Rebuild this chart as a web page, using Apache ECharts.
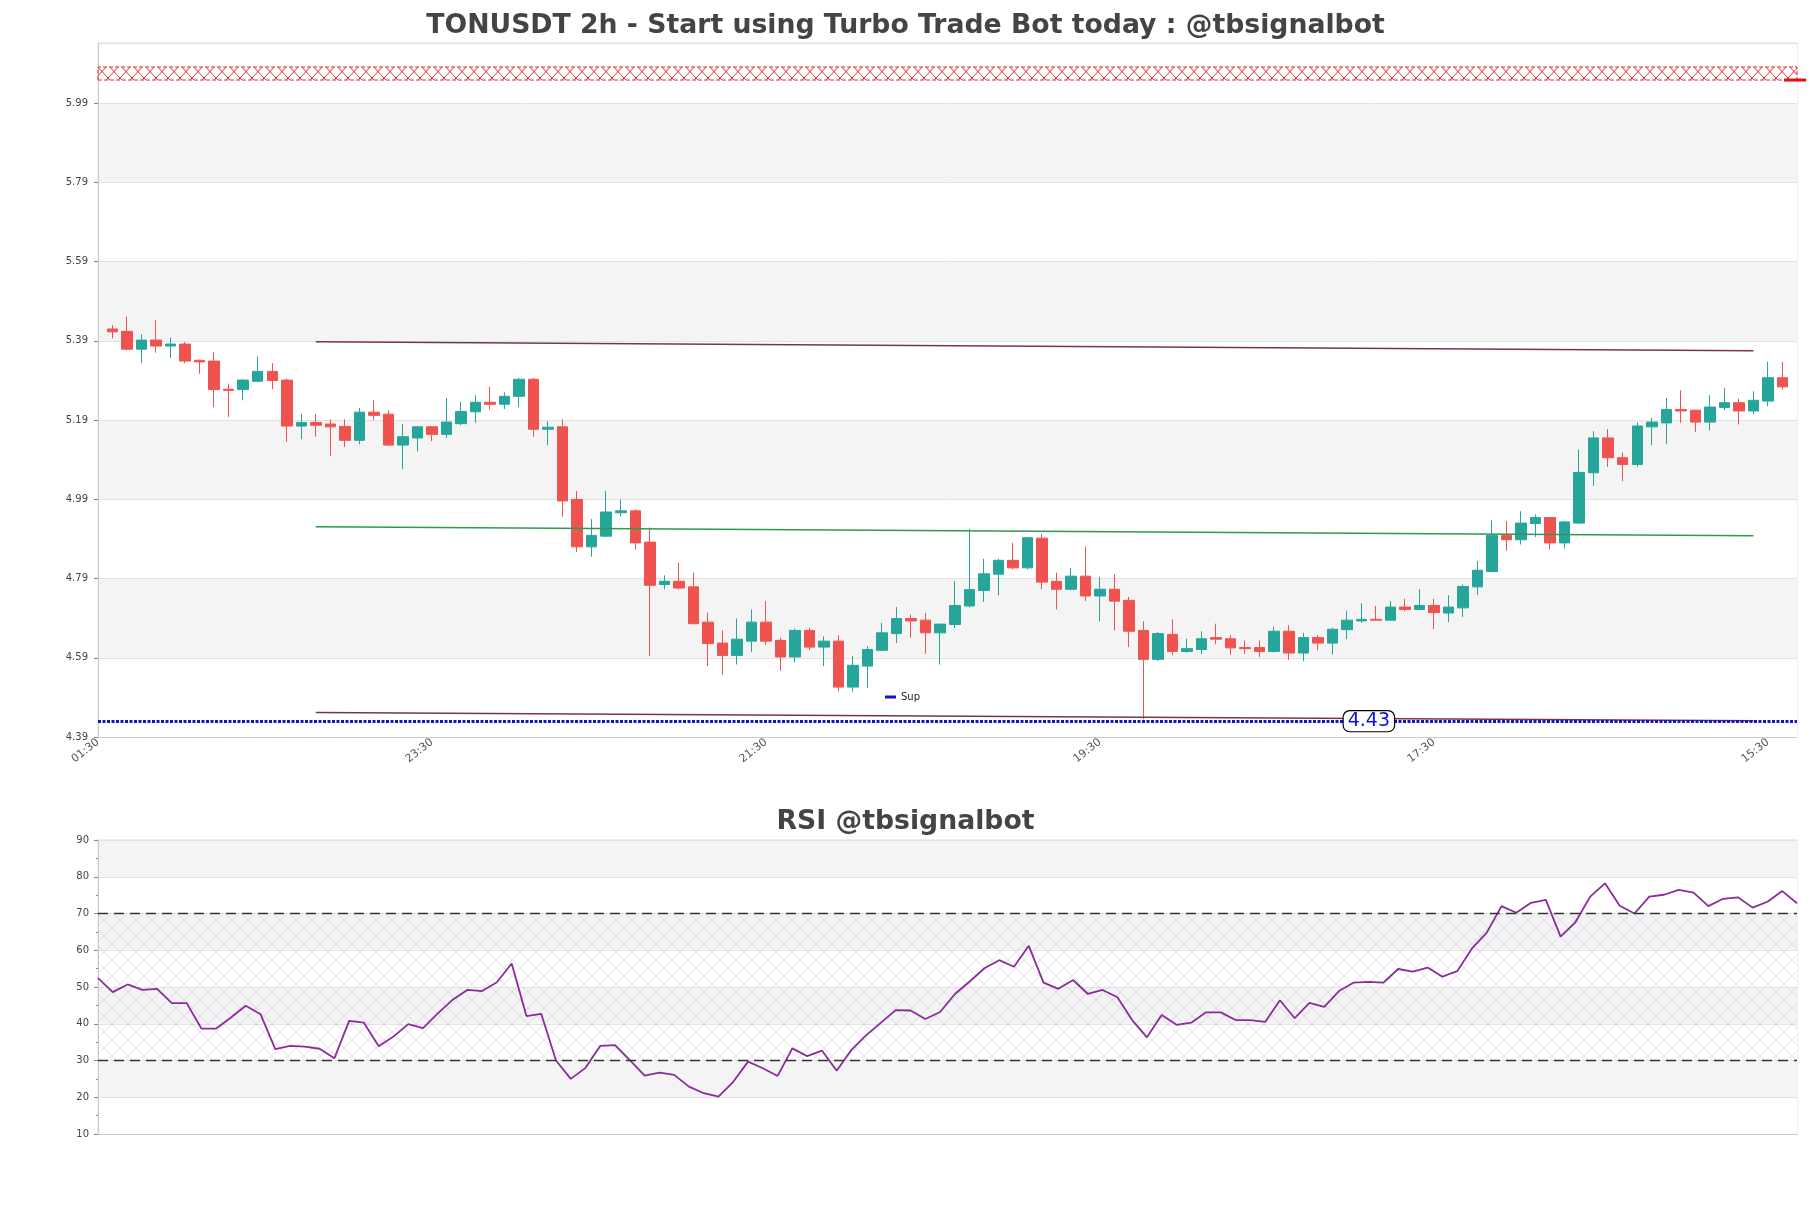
<!DOCTYPE html>
<html>
<head>
<meta charset="utf-8">
<script src="https://cdn.jsdelivr.net/npm/echarts@6/dist/echarts.min.js"></script>
<style>
  html, body { margin: 0; padding: 0; background: #fff; }
  #chart { width: 1811px; height: 1208px; }
</style>
</head>
<body>
<div id="chart"></div>
<script>
// x tick labels, one every 23 slots
const tickLabels = ['01:30', '23:30', '21:30', '19:30', '17:30', '15:30'];

// candles (slot 1..116)
const candleOpen = [5.420,5.414,5.369,5.392,5.377,5.382,5.341,5.339,5.268,5.267,5.288,5.313,5.291,5.175,5.184,5.180,5.174,5.139,5.210,5.205,
  5.127,5.145,5.173,5.154,5.181,5.211,5.235,5.230,5.250,5.293,5.167,5.173,4.990,4.870,4.897,4.956,4.961,4.882,4.775,4.783,
  4.769,4.680,4.627,4.596,4.632,4.680,4.634,4.592,4.659,4.617,4.632,4.516,4.569,4.609,4.651,4.689,4.685,4.653,4.674,4.721,
  4.760,4.801,4.836,4.817,4.892,4.783,4.763,4.796,4.746,4.763,4.735,4.659,4.586,4.649,4.606,4.611,4.641,4.638,4.616,4.616,
  4.606,4.657,4.602,4.641,4.627,4.661,4.683,4.687,4.685,4.718,4.712,4.722,4.703,4.716,4.769,4.808,4.899,4.888,4.929,4.944,
  4.880,4.930,5.057,5.145,5.095,5.078,5.173,5.183,5.217,5.215,5.185,5.222,5.234,5.213,5.238,5.297];
const candleClose = [5.413,5.369,5.392,5.377,5.382,5.339,5.337,5.267,5.265,5.291,5.313,5.290,5.175,5.184,5.177,5.173,5.139,5.210,5.202,5.127,
  5.148,5.173,5.154,5.185,5.212,5.235,5.230,5.250,5.293,5.167,5.172,4.986,4.870,4.899,4.958,4.961,4.880,4.773,4.783,4.766,
  4.676,4.626,4.596,4.637,4.680,4.632,4.592,4.659,4.617,4.632,4.516,4.571,4.611,4.653,4.689,4.683,4.653,4.675,4.722,4.762,
  4.802,4.836,4.817,4.893,4.781,4.763,4.796,4.746,4.763,4.733,4.657,4.586,4.651,4.606,4.613,4.638,4.637,4.615,4.613,4.606,
  4.657,4.602,4.641,4.627,4.662,4.685,4.687,4.685,4.718,4.712,4.722,4.704,4.718,4.770,4.811,4.899,4.888,4.930,4.944,4.880,
  4.933,5.058,5.145,5.095,5.078,5.175,5.185,5.217,5.213,5.185,5.223,5.234,5.213,5.240,5.297,5.274];
const candleLow = [5.396,5.366,5.334,5.360,5.347,5.334,5.307,5.223,5.198,5.240,5.286,5.268,5.135,5.142,5.148,5.100,5.122,5.129,5.190,5.125,
  5.066,5.111,5.137,5.145,5.177,5.183,5.217,5.218,5.223,5.148,5.127,4.946,4.857,4.845,4.895,4.947,4.863,4.595,4.763,4.762,
  4.674,4.569,4.547,4.573,4.605,4.623,4.557,4.578,4.609,4.569,4.506,4.504,4.514,4.607,4.627,4.641,4.600,4.573,4.665,4.717,
  4.731,4.748,4.813,4.813,4.763,4.712,4.760,4.733,4.682,4.659,4.617,4.435,4.582,4.596,4.603,4.599,4.624,4.598,4.600,4.592,
  4.603,4.585,4.581,4.609,4.598,4.637,4.678,4.683,4.685,4.707,4.710,4.662,4.680,4.693,4.749,4.806,4.860,4.876,4.895,4.863,
  4.866,4.929,5.024,5.072,5.036,5.072,5.127,5.129,5.183,5.160,5.164,5.215,5.179,5.205,5.225,5.267];
const candleHigh = [5.430,5.451,5.407,5.442,5.398,5.387,5.343,5.361,5.282,5.293,5.351,5.334,5.295,5.206,5.206,5.192,5.192,5.221,5.240,5.215,
  5.180,5.175,5.175,5.246,5.236,5.253,5.274,5.260,5.296,5.296,5.187,5.192,5.011,4.940,5.011,4.990,4.965,4.919,4.798,4.830,
  4.805,4.704,4.659,4.689,4.712,4.733,4.641,4.664,4.666,4.644,4.647,4.594,4.619,4.678,4.718,4.699,4.703,4.676,4.783,4.916,
  4.840,4.840,4.880,4.895,4.903,4.805,4.817,4.871,4.794,4.801,4.744,4.682,4.655,4.687,4.638,4.657,4.676,4.647,4.634,4.634,
  4.668,4.672,4.653,4.647,4.666,4.709,4.728,4.721,4.733,4.739,4.763,4.739,4.748,4.775,4.834,4.937,4.935,4.960,4.952,4.945,
  4.935,5.116,5.162,5.167,5.108,5.184,5.196,5.246,5.265,5.216,5.253,5.271,5.244,5.263,5.337,5.337];

// RSI, one value per candle
const rsiValues = [52.4,48.6,50.7,49.2,49.5,45.6,45.6,38.7,38.7,41.7,44.9,42.6,33.1,34.0,33.8,33.2,30.6,40.8,40.3,33.9,
  36.5,39.9,38.8,42.8,46.5,49.2,48.9,51.3,56.4,42.1,42.7,30.0,25.0,28.0,34.0,34.2,30.1,25.9,26.7,26.1,
  22.9,21.1,20.2,24.2,29.7,27.9,25.8,33.3,31.2,32.7,27.2,32.9,36.9,40.3,43.7,43.6,41.3,43.2,48.1,51.5,
  55.1,57.3,55.5,61.2,51.2,49.5,51.9,48.1,49.2,47.2,41.0,36.3,42.4,39.7,40.3,43.1,43.1,41.0,41.0,40.5,
  46.4,41.5,45.7,44.6,48.9,51.2,51.4,51.2,54.9,54.2,55.3,52.8,54.3,60.5,64.8,72.0,70.2,72.9,73.7,63.7,
  67.6,74.6,78.2,72.1,70.0,74.6,75.1,76.4,75.7,72.0,74.0,74.4,71.6,73.2,76.1,72.8];

// levels and trend lines [slot, price]
const resistLine = [[15, 5.388], [114, 5.365]];
const midLine = [[15, 4.921], [114, 4.898]];
const lowLine = [[15, 4.452], [114, 4.431]];
const supLevel = 4.43;
const supLabelSlot = 88;
const redZone = [6.0485, 6.0815];
const rsiLevels = [30, 70];

const slotCount = 118;
const slots = Array.from({ length: slotCount }, (_, i) => i);
const rsiSlots = rsiValues.map((_, i) => i);
const candles = candleOpen.map((o, i) => [i + 1, o, candleClose[i], candleLow[i], candleHigh[i]]);

function hatch(w, h, color, lw) {
  const c = document.createElement('canvas');
  c.width = w; c.height = h;
  const g = c.getContext('2d');
  g.strokeStyle = color;
  g.lineWidth = lw;
  g.beginPath();
  g.moveTo(0, 0); g.lineTo(w, h);
  g.moveTo(w, 0); g.lineTo(0, h);
  g.stroke();
  return c;
}

const font = 'DejaVu Sans';
const chart = echarts.init(document.getElementById('chart'));

const trend = (pts, color) => [
  { coord: pts[0], lineStyle: { color: color, width: 1.5, type: 'solid' } },
  { coord: pts[1] }
];

const option = {
  animation: false,
  backgroundColor: '#fff',
  title: [
    { text: 'TONUSDT 2h - Start using Turbo Trade Bot today : @tbsignalbot', left: 'center', top: 8,
      textStyle: { fontFamily: font, fontSize: 26.7, fontWeight: 'bold', color: '#444' } },
    { text: 'RSI @tbsignalbot', left: 'center', top: 804,
      textStyle: { fontFamily: font, fontSize: 26.7, fontWeight: 'bold', color: '#444' } }
  ],
  legend: {
    data: ['Sup'], left: 880, top: 687, icon: 'rect', itemWidth: 11, itemHeight: 3,
    textStyle: { fontFamily: font, fontSize: 10, color: '#222' }
  },
  grid: [
    { left: 98, top: 43, width: 1699, height: 694, show: true, borderColor: '#ddd', borderWidth: 1 },
    { left: 98, top: 840, width: 1699, height: 294, show: true, borderColor: '#ddd', borderWidth: 1 }
  ],
  xAxis: [
    { type: 'category', gridIndex: 0, data: slots, boundaryGap: false,
      axisLine: { lineStyle: { color: '#ccc' } }, axisTick: { show: false },
      axisLabel: { interval: 22, rotate: 38, margin: 4, fontFamily: font, fontSize: 11, color: '#555',
        formatter: (v, i) => tickLabels[i / 23] || '' },
      splitLine: { show: false } },
    { type: 'category', gridIndex: 1, data: rsiSlots, boundaryGap: false,
      axisLine: { lineStyle: { color: '#ccc' } }, axisTick: { show: false }, axisLabel: { show: false },
      splitLine: { show: false } }
  ],
  yAxis: [
    { type: 'value', gridIndex: 0, min: 4.39, max: 6.142, interval: 0.2, scale: true,
      axisLine: { show: true, lineStyle: { color: '#ccc' } },
      axisTick: { show: true, length: 4, lineStyle: { color: '#888' } },
      axisLabel: { showMaxLabel: false, margin: 10, fontFamily: font, fontSize: 10, color: '#444',
        formatter: v => v.toFixed(2) },
      splitLine: { lineStyle: { color: '#e2e2e2' } },
      splitArea: { show: true, areaStyle: { color: ['#ffffff', '#f4f4f4'] } } },
    { type: 'value', gridIndex: 1, min: 10, max: 90, interval: 10,
      axisLine: { show: true, lineStyle: { color: '#ccc' } },
      axisTick: { show: true, length: 4, lineStyle: { color: '#888' } },
      minorTick: { show: true, splitNumber: 2, length: 2, lineStyle: { color: '#888' } },
      axisLabel: { margin: 9, fontFamily: font, fontSize: 10, color: '#444' },
      splitLine: { lineStyle: { color: '#e2e2e2' } },
      splitArea: { show: true, areaStyle: { color: ['#ffffff', '#f4f4f4'] } } }
  ],
  series: [
    {
      type: 'candlestick', xAxisIndex: 0, yAxisIndex: 0, data: candles,
      encode: { x: 0, y: [1, 2, 3, 4] }, barWidth: 11,
      itemStyle: { color: '#26a69a', color0: '#ef5350', borderColor: '#26a69a', borderColor0: '#ef5350', borderWidth: 1 },
      markArea: {
        silent: true,
        itemStyle: { color: { image: hatch(12, 13, '#e03030', 1), repeat: 'repeat' },
          borderColor: '#e03030', borderWidth: 1, borderType: 'dashed' },
        data: [[{ yAxis: redZone[0] }, { yAxis: redZone[1] }]]
      },
      markLine: {
        silent: true, symbol: ['none', 'none'], label: { show: false },
        data: [trend(resistLine, '#7d3150'), trend(midLine, '#2f9a4c'), trend(lowLine, '#7d3150')]
      },
      markPoint: {
        silent: true,
        data: [{ coord: [slotCount - 1, redZone[0]], symbol: 'rect', symbolSize: [22, 3], symbolOffset: [-2, 0],
          itemStyle: { color: '#e01010' }, label: { show: false } }]
      }
    },
    {
      name: 'Sup', type: 'line', xAxisIndex: 0, yAxisIndex: 0, data: [], color: '#1414c0',
      markLine: {
        silent: true, symbol: ['none', 'none'], label: { show: false },
        lineStyle: { color: '#1414c0', width: 3, type: [3, 1.5] },
        data: [{ yAxis: supLevel }]
      },
      markPoint: {
        silent: true,
        data: [{ coord: [supLabelSlot, supLevel], symbol: 'rect', symbolSize: 0,
          label: { show: true, position: 'inside', offset: [-7, 0], formatter: supLevel.toFixed(2), fontFamily: font, fontSize: 19,
            color: '#1010e0', backgroundColor: '#fff', borderColor: '#000', borderWidth: 1.2, borderRadius: 6,
            padding: [1, 4, 0, 4] } }]
      }
    },
    {
      type: 'line', xAxisIndex: 1, yAxisIndex: 1, data: rsiValues, symbol: 'none',
      lineStyle: { color: '#8b2c9b', width: 1.8 },
      markArea: {
        silent: true,
        itemStyle: { color: { image: hatch(16, 16, 'rgba(150,130,180,0.24)', 1), repeat: 'repeat' } },
        data: [[{ yAxis: rsiLevels[0] }, { yAxis: rsiLevels[1] }]]
      },
      markLine: {
        silent: true, symbol: ['none', 'none'], label: { show: false },
        lineStyle: { color: '#333', width: 1.3, type: [10, 6] },
        data: rsiLevels.map(v => ({ yAxis: v }))
      }
    }
  ]
};

chart.setOption(option);
window.addEventListener('resize', chart.resize);
</script>
</body>
</html>
